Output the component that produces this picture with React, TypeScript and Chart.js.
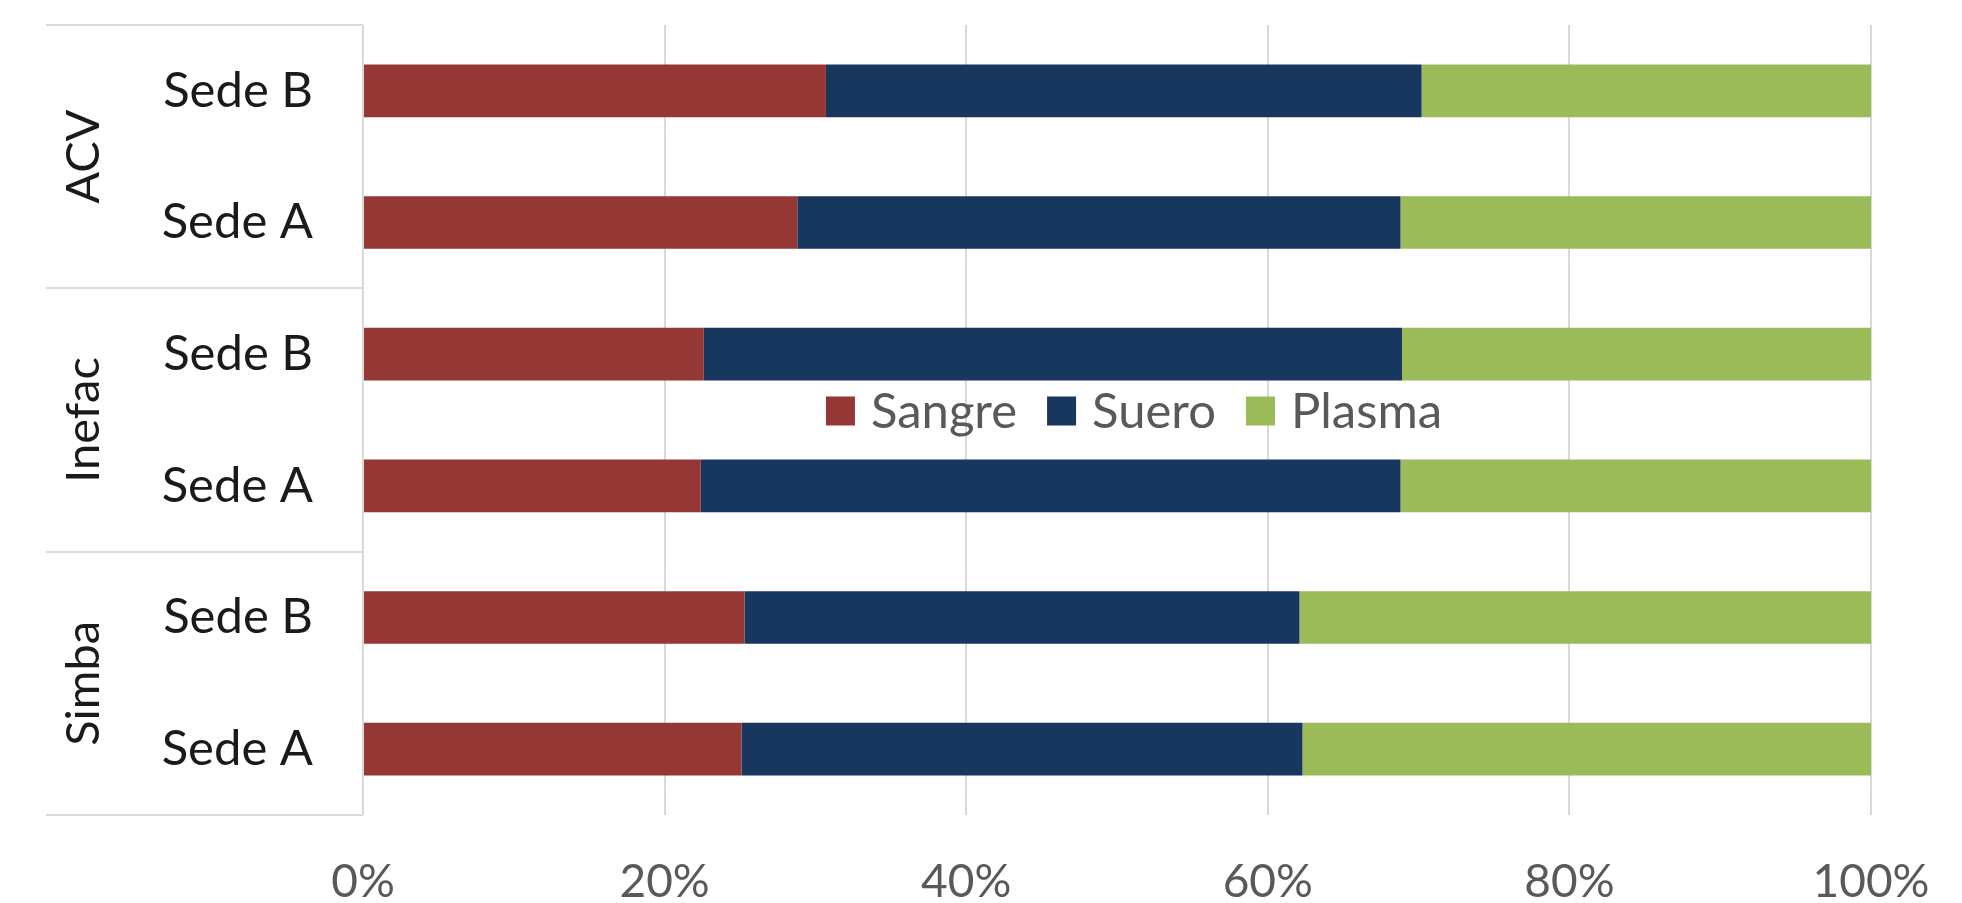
import React, { useEffect, useRef } from 'react';
import { Chart, registerables } from 'chart.js';

Chart.register(...registerables);

// ---- Data ----
const groups = ['ACV', 'Inefac', 'Simba'];
const sites = ['Sede B', 'Sede A', 'Sede B', 'Sede A', 'Sede B', 'Sede A'];
const sangre = [30.7, 28.8, 22.6, 22.4, 25.3, 25.1];
const suero = [39.5, 40.0, 46.3, 46.4, 36.8, 37.2];
const plasma = [29.8, 31.2, 31.1, 31.2, 37.9, 37.7];
const seriesNames = ['Sangre', 'Suero', 'Plasma'];
const seriesColors = ['#953735', '#17375E', '#9BBB59'];
const xTickStep = 20;
const xMax = 100;

const FONT = 'Lato, "Open Sans", sans-serif';

const groupPlugin = {
  id: 'groupBox',
  afterDraw(chart: any) {
    const { ctx, chartArea, scales } = chart;
    const y = scales.y;
    const band = y.getPixelForValue(1) - y.getPixelForValue(0);
    const left = 46;
    const right = chartArea.left;
    ctx.save();
    ctx.strokeStyle = '#d9d9d9';
    ctx.lineWidth = 2;
    const lines: number[] = [];
    groups.forEach((g, i) => {
      const top = y.getPixelForValue(2 * i) - band / 2;
      const bottom = y.getPixelForValue(2 * i + 1) + band / 2;
      lines.push(top, bottom);
      ctx.save();
      ctx.translate(84, (top + bottom) / 2);
      ctx.rotate(-Math.PI / 2);
      ctx.fillStyle = '#1a1a1a';
      ctx.font = `47px ${FONT}`;
      ctx.textAlign = 'center';
      ctx.textBaseline = 'middle';
      ctx.fillText(g, 0, 0);
      ctx.restore();
    });
    Array.from(new Set(lines.map((v) => Math.round(v)))).forEach((ly) => {
      ctx.beginPath();
      ctx.moveTo(left, ly);
      ctx.lineTo(right, ly);
      ctx.stroke();
    });
    ctx.restore();

    // Legend in the middle of the plot
    ctx.save();
    ctx.font = `49px ${FONT}`;
    ctx.textBaseline = 'middle';
    ctx.textAlign = 'left';
    const box = 29;
    const gapText = 16;
    const gapItem = 30;
    const widths = seriesNames.map((n) => ctx.measureText(n).width);
    const total = widths.reduce((a, w) => a + box + gapText + w, 0) + gapItem * (seriesNames.length - 1);
    let x = 1134 - total / 2;
    const cy = (chartArea.top + chartArea.bottom) / 2 - 9;
    chart.data.datasets.forEach((ds: any, i: number) => {
      ctx.fillStyle = ds.backgroundColor;
      ctx.fillRect(x, cy - box / 2, box, box);
      x += box + gapText;
      ctx.fillStyle = '#595959';
      ctx.fillText(ds.label, x, cy + 1);
      x += widths[i] + gapItem;
    });
    ctx.restore();
  },
};

export default function App() {
  const ref = useRef<HTMLCanvasElement>(null);
  useEffect(() => {
    document.body.style.margin = '0';
    const series = [sangre, suero, plasma];
    const chart = new Chart(ref.current as HTMLCanvasElement, {
      type: 'bar',
      data: {
        labels: sites,
        datasets: series.map((d, i) => ({
          label: seriesNames[i],
          data: d,
          backgroundColor: seriesColors[i],
          borderWidth: 0,
          barPercentage: 0.4,
          categoryPercentage: 1,
        })),
      },
      options: {
        indexAxis: 'y',
        responsive: false,
        animation: false,
        layout: { padding: { top: 25, right: 91, left: 0, bottom: 0 } },
        plugins: { legend: { display: false }, tooltip: { enabled: false } },
        scales: {
          x: {
            stacked: true,
            min: 0,
            max: xMax,
            grid: { color: '#d9d9d9', lineWidth: 2, drawTicks: false },
            border: { display: false },
            ticks: {
              stepSize: xTickStep,
              padding: 40,
              color: '#595959',
              font: { family: FONT, size: 46 },
              callback: (v: any) => `${v}%`,
            },
            afterFit: (s: any) => {
              s.height = 88;
              s.paddingLeft = 0;
              s.paddingRight = 0;
            },
          },
          y: {
            stacked: true,
            grid: { display: false },
            border: { display: false },
            ticks: {
              padding: 42,
              color: '#1a1a1a',
              font: { family: FONT, size: 49 },
            },
            afterFit: (s: any) => {
              s.width = 363;
              s.paddingTop = 0;
              s.paddingBottom = 0;
            },
          },
        },
      },
      plugins: [groupPlugin],
    });
    return () => chart.destroy();
  }, []);
  return (
    <div style={{ width: 1962, height: 903 }}>
      <canvas ref={ref} width={1962} height={903} />
    </div>
  );
}
